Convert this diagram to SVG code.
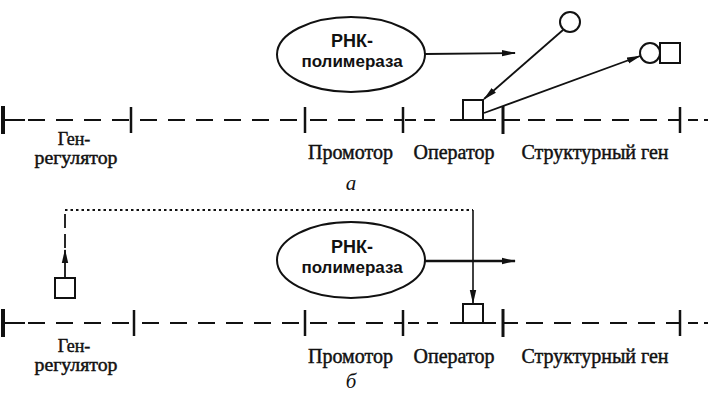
<svg xmlns="http://www.w3.org/2000/svg" width="709" height="399" viewBox="0 0 709 399">
<style>
.bg{fill:#fff}
.dna{stroke:#111;stroke-width:2;stroke-dasharray:17 11;fill:none}
.solid{stroke:#111;stroke-width:2;fill:none}
.tick{stroke:#111;stroke-width:2.5}
.tickL{stroke:#111;stroke-width:4}
.shape{fill:#fff;stroke:#111;stroke-width:2}
.lbl{font-family:"Liberation Serif","Times New Roman",serif;font-size:20px;fill:#111;text-anchor:middle;stroke:#111;stroke-width:0.45}
.lbs{font-family:"Liberation Serif","Times New Roman",serif;font-size:18px;fill:#111;text-anchor:middle;stroke:#111;stroke-width:0.45}
.etxt{font-family:"Liberation Sans",Arial,sans-serif;font-weight:bold;fill:#111;text-anchor:middle}
.cap{font-family:"Liberation Serif","Times New Roman",serif;font-style:italic;font-size:21px;fill:#111;text-anchor:middle}
.conn{stroke:#111;stroke-width:1.8;fill:none}
</style>
<defs>
<marker id="ah" viewBox="0 0 14 8" refX="13" refY="4" markerWidth="14" markerHeight="8" markerUnits="userSpaceOnUse" orient="auto">
<path d="M0,0.8 L14,4 L0,7.2 Z" fill="#111"/>
</marker>
</defs>
<rect class="bg" x="0" y="0" width="709" height="399"/>

<!-- panel a -->
<g id="dna-a">
<line class="solid" x1="3" y1="120" x2="25" y2="120"/>
<line class="dna" x1="28" y1="120" x2="131" y2="120"/>
<line class="dna" x1="140" y1="120" x2="305" y2="120"/>
<line class="dna" x1="310" y1="120" x2="403" y2="120"/>
<line class="dna" x1="405" y1="120" x2="440" y2="120" style="stroke-dasharray:11 8"/>
<line class="solid" x1="450" y1="120" x2="496" y2="120"/>
<line class="solid" x1="503" y1="120" x2="520" y2="120"/>
<line class="dna" x1="528" y1="120" x2="680" y2="120"/>
<line class="dna" x1="688" y1="120" x2="708" y2="120" style="stroke-dasharray:10 6"/>
<line class="tickL" x1="3" y1="106" x2="3" y2="134"/>
<line class="tick" x1="131" y1="107" x2="131" y2="133"/>
<line class="tick" x1="305" y1="107" x2="305" y2="133"/>
<line class="tick" x1="403" y1="107" x2="403" y2="133"/>
<line class="tickL" x1="503" y1="106" x2="503" y2="134" style="stroke-width:3"/>
<line class="tick" x1="680" y1="107" x2="680" y2="133"/>
</g>
<g id="rnap-a">
<ellipse class="shape" cx="351" cy="54.5" rx="74" ry="37.5"/>
<text class="etxt" x="352" y="47" font-size="18">РНК-</text>
<text class="etxt" x="352" y="67" font-size="17">полимераза</text>
</g>
<g id="operator-a"><rect class="shape" x="463" y="100" width="20" height="20"/></g>
<g id="inducer-a"><circle class="shape" cx="570" cy="22" r="10"/></g>
<g id="complex-a">
<circle class="shape" cx="650" cy="53" r="10"/>
<rect class="shape" x="660" y="43" width="20" height="20"/>
</g>
<g id="labels-a">
<text class="lbs" x="74" y="145">Ген-</text>
<text class="lbs" x="76" y="164" textLength="83" lengthAdjust="spacingAndGlyphs">регулятор</text>
<text class="lbl" x="350.5" y="159">Промотор</text>
<text class="lbl" x="454" y="159">Оператор</text>
<text class="lbl" x="595" y="159">Структурный ген</text>
<text class="cap" x="351" y="190">а</text>
</g>

<!-- panel b -->
<g id="dna-b">
<line class="solid" x1="3" y1="323" x2="25" y2="323"/>
<line class="dna" x1="28" y1="323" x2="134" y2="323"/>
<line class="dna" x1="142" y1="323" x2="305" y2="323"/>
<line class="dna" x1="310" y1="323" x2="403" y2="323"/>
<line class="dna" x1="408" y1="323" x2="440" y2="323" style="stroke-dasharray:11 8"/>
<line class="solid" x1="450" y1="323" x2="496" y2="323"/>
<line class="solid" x1="503" y1="323" x2="518" y2="323"/>
<line class="dna" x1="526" y1="323" x2="680" y2="323"/>
<line class="dna" x1="688" y1="323" x2="708" y2="323" style="stroke-dasharray:10 6"/>
<line class="tickL" x1="3" y1="309" x2="3" y2="337"/>
<line class="tick" x1="134" y1="310" x2="134" y2="336"/>
<line class="tick" x1="305" y1="310" x2="305" y2="336"/>
<line class="tick" x1="403" y1="310" x2="403" y2="336"/>
<line class="tickL" x1="503" y1="309" x2="503" y2="337" style="stroke-width:3"/>
<line class="tick" x1="680" y1="310" x2="680" y2="336"/>
</g>
<g id="rnap-b">
<ellipse class="shape" cx="351" cy="260" rx="74" ry="38"/>
<text class="etxt" x="352" y="253" font-size="18">РНК-</text>
<text class="etxt" x="352" y="273" font-size="17">полимераза</text>
</g>
<g id="repressor-b"><rect class="shape" x="55" y="278" width="20" height="20"/></g>
<g id="operator-b"><rect class="shape" x="463" y="304" width="20" height="19"/></g>
<g id="labels-b">
<text class="lbs" x="74" y="352">Ген-</text>
<text class="lbs" x="76" y="371" textLength="83" lengthAdjust="spacingAndGlyphs">регулятор</text>
<text class="lbl" x="350.5" y="363">Промотор</text>
<text class="lbl" x="454" y="363">Оператор</text>
<text class="lbl" x="595" y="363">Структурный ген</text>
<text class="cap" x="351" y="388">б</text>
</g>

<g id="connectors">
<line class="conn" x1="425" y1="54" x2="515" y2="53" marker-end="url(#ah)"/>
<line class="conn" x1="563" y1="30" x2="484" y2="99" marker-end="url(#ah)"/>
<line class="conn" x1="484" y1="113" x2="640" y2="56" marker-end="url(#ah)"/>
<line class="conn" x1="425" y1="261" x2="515" y2="261" style="stroke-width:2.5" marker-end="url(#ah)"/>
<line class="conn" x1="65" y1="278" x2="65" y2="250" marker-end="url(#ah)"/>
<line class="conn" x1="65" y1="248" x2="65" y2="210" style="stroke-dasharray:14 6"/>
<line class="conn" x1="65" y1="210" x2="473" y2="210" style="stroke-width:2;stroke-dasharray:2.5 3"/>
<line class="conn" x1="473" y1="210" x2="473" y2="303" style="stroke-width:1.6" marker-end="url(#ah)"/>
</g>
</svg>
